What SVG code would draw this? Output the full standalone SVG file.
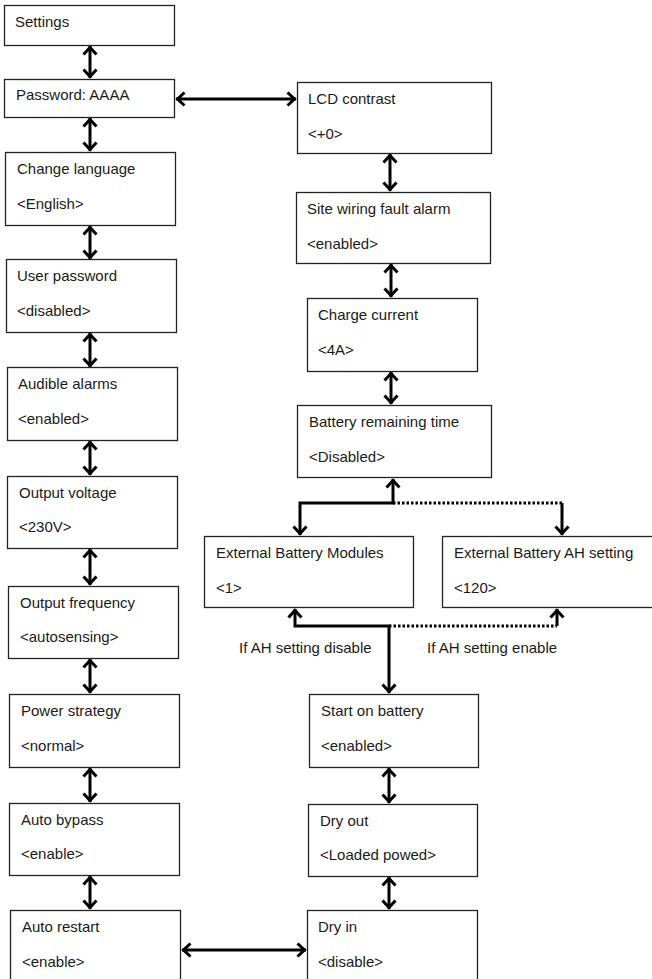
<svg xmlns="http://www.w3.org/2000/svg" width="652" height="979" viewBox="0 0 652 979">
<style>
.box{fill:#fff;stroke:#222;stroke-width:1.3}
.t{font-family:"Liberation Sans",Arial,sans-serif;font-size:15px;fill:#1a1a1a}
.c{fill:none;stroke:#000;stroke-width:3}
.d{fill:none;stroke:#000;stroke-width:3;stroke-dasharray:2.5 2}
.hd{fill:none;stroke:#000;stroke-width:3;stroke-dasharray:none}
</style>
<defs>
<marker id="ah" markerUnits="userSpaceOnUse" markerWidth="14" markerHeight="16" viewBox="0 0 14 16" refX="10.5" refY="8" orient="auto-start-reverse">
<path class="hd" d="M2,1.5 L9,8 L2,14.5"/>
</marker>
</defs>
<rect width="652" height="979" fill="#fff"/>
<g id="connectors">
<path class="c" d="M90,46 V78" marker-start="url(#ah)" marker-end="url(#ah)"/>
<path class="c" d="M90,118 V151" marker-start="url(#ah)" marker-end="url(#ah)"/>
<path class="c" d="M90,226 V259" marker-start="url(#ah)" marker-end="url(#ah)"/>
<path class="c" d="M90,333 V367" marker-start="url(#ah)" marker-end="url(#ah)"/>
<path class="c" d="M90,441 V475" marker-start="url(#ah)" marker-end="url(#ah)"/>
<path class="c" d="M90,549 V585" marker-start="url(#ah)" marker-end="url(#ah)"/>
<path class="c" d="M90,659 V693" marker-start="url(#ah)" marker-end="url(#ah)"/>
<path class="c" d="M90,768 V802" marker-start="url(#ah)" marker-end="url(#ah)"/>
<path class="c" d="M90,876 V909" marker-start="url(#ah)" marker-end="url(#ah)"/>
<path class="c" d="M176,99 H296" marker-start="url(#ah)" marker-end="url(#ah)"/>
<path class="c" d="M182,950 H306" marker-start="url(#ah)" marker-end="url(#ah)"/>
<path class="c" d="M390,154 V191" marker-start="url(#ah)" marker-end="url(#ah)"/>
<path class="c" d="M391,264 V297" marker-start="url(#ah)" marker-end="url(#ah)"/>
<path class="c" d="M391,372 V404" marker-start="url(#ah)" marker-end="url(#ah)"/>
<path class="c" d="M300,535 V503 H393 V479" marker-start="url(#ah)" marker-end="url(#ah)"/>
<path class="d" d="M393,503 H562"/>
<path class="c" d="M562,503 V535" marker-end="url(#ah)"/>
<path class="c" d="M295,609 V626 H389 V693" marker-start="url(#ah)" marker-end="url(#ah)"/>
<path class="d" d="M389,626 H557"/>
<path class="c" d="M557,626 V609" marker-end="url(#ah)"/>
<path class="c" d="M389,768 V803" marker-start="url(#ah)" marker-end="url(#ah)"/>
<path class="c" d="M389,877 V909" marker-start="url(#ah)" marker-end="url(#ah)"/>
<text class="t" x="239" y="653">If AH setting disable</text>
<text class="t" x="427" y="653">If AH setting enable</text>
</g>
<g id="settings"><rect class="box" x="4.5" y="5.5" width="170" height="40"/><text class="t" x="15" y="27">Settings</text></g>
<g id="password"><rect class="box" x="4.5" y="79.5" width="170" height="38"/><text class="t" x="16" y="100">Password: AAAA</text></g>
<g id="change-language"><rect class="box" x="5.5" y="152.5" width="170" height="73"/><text class="t" x="17" y="174">Change language</text><text class="t" x="17" y="209">&lt;English&gt;</text></g>
<g id="user-password"><rect class="box" x="6.5" y="259.5" width="170" height="73"/><text class="t" x="17" y="281">User password</text><text class="t" x="17" y="316">&lt;disabled&gt;</text></g>
<g id="audible-alarms"><rect class="box" x="7.5" y="367.5" width="170" height="73"/><text class="t" x="18" y="389">Audible alarms</text><text class="t" x="18" y="424">&lt;enabled&gt;</text></g>
<g id="output-voltage"><rect class="box" x="7.5" y="476.5" width="170" height="72"/><text class="t" x="19" y="498">Output voltage</text><text class="t" x="19" y="532">&lt;230V&gt;</text></g>
<g id="output-frequency"><rect class="box" x="8.5" y="586.5" width="170" height="72"/><text class="t" x="20" y="608">Output frequency</text><text class="t" x="20" y="642">&lt;autosensing&gt;</text></g>
<g id="power-strategy"><rect class="box" x="9.5" y="694.5" width="170" height="73"/><text class="t" x="21" y="716">Power strategy</text><text class="t" x="21" y="751">&lt;normal&gt;</text></g>
<g id="auto-bypass"><rect class="box" x="9.5" y="803.5" width="170" height="72"/><text class="t" x="21" y="825">Auto bypass</text><text class="t" x="21" y="859">&lt;enable&gt;</text></g>
<g id="auto-restart"><rect class="box" x="10.5" y="910.5" width="170" height="75"/><text class="t" x="22" y="932">Auto restart</text><text class="t" x="22" y="967">&lt;enable&gt;</text></g>
<g id="lcd-contrast"><rect class="box" x="297.5" y="82.5" width="194" height="71"/><text class="t" x="308" y="104">LCD contrast</text><text class="t" x="308" y="139">&lt;+0&gt;</text></g>
<g id="site-wiring"><rect class="box" x="296.5" y="192.5" width="194" height="71"/><text class="t" x="307" y="214">Site wiring fault alarm</text><text class="t" x="307" y="249">&lt;enabled&gt;</text></g>
<g id="charge-current"><rect class="box" x="307.5" y="298.5" width="170" height="73"/><text class="t" x="318" y="320">Charge current</text><text class="t" x="318" y="355">&lt;4A&gt;</text></g>
<g id="battery-remaining"><rect class="box" x="297.5" y="405.5" width="194" height="72"/><text class="t" x="309" y="427">Battery remaining time</text><text class="t" x="309" y="462">&lt;Disabled&gt;</text></g>
<g id="ext-battery-modules"><rect class="box" x="204.5" y="536.5" width="209" height="71"/><text class="t" x="216" y="558">External Battery Modules</text><text class="t" x="216" y="593">&lt;1&gt;</text></g>
<g id="ext-battery-ah"><rect class="box" x="442.5" y="536.5" width="215" height="71"/><text class="t" x="454" y="558">External Battery AH setting</text><text class="t" x="454" y="593">&lt;120&gt;</text></g>
<g id="start-on-battery"><rect class="box" x="309.5" y="694.5" width="169" height="73"/><text class="t" x="321" y="716">Start on battery</text><text class="t" x="321" y="751">&lt;enabled&gt;</text></g>
<g id="dry-out"><rect class="box" x="308.5" y="804.5" width="169" height="72"/><text class="t" x="320" y="826">Dry out</text><text class="t" x="320" y="860">&lt;Loaded powed&gt;</text></g>
<g id="dry-in"><rect class="box" x="307.5" y="910.5" width="170" height="75"/><text class="t" x="318" y="932">Dry in</text><text class="t" x="318" y="967">&lt;disable&gt;</text></g>
</svg>
